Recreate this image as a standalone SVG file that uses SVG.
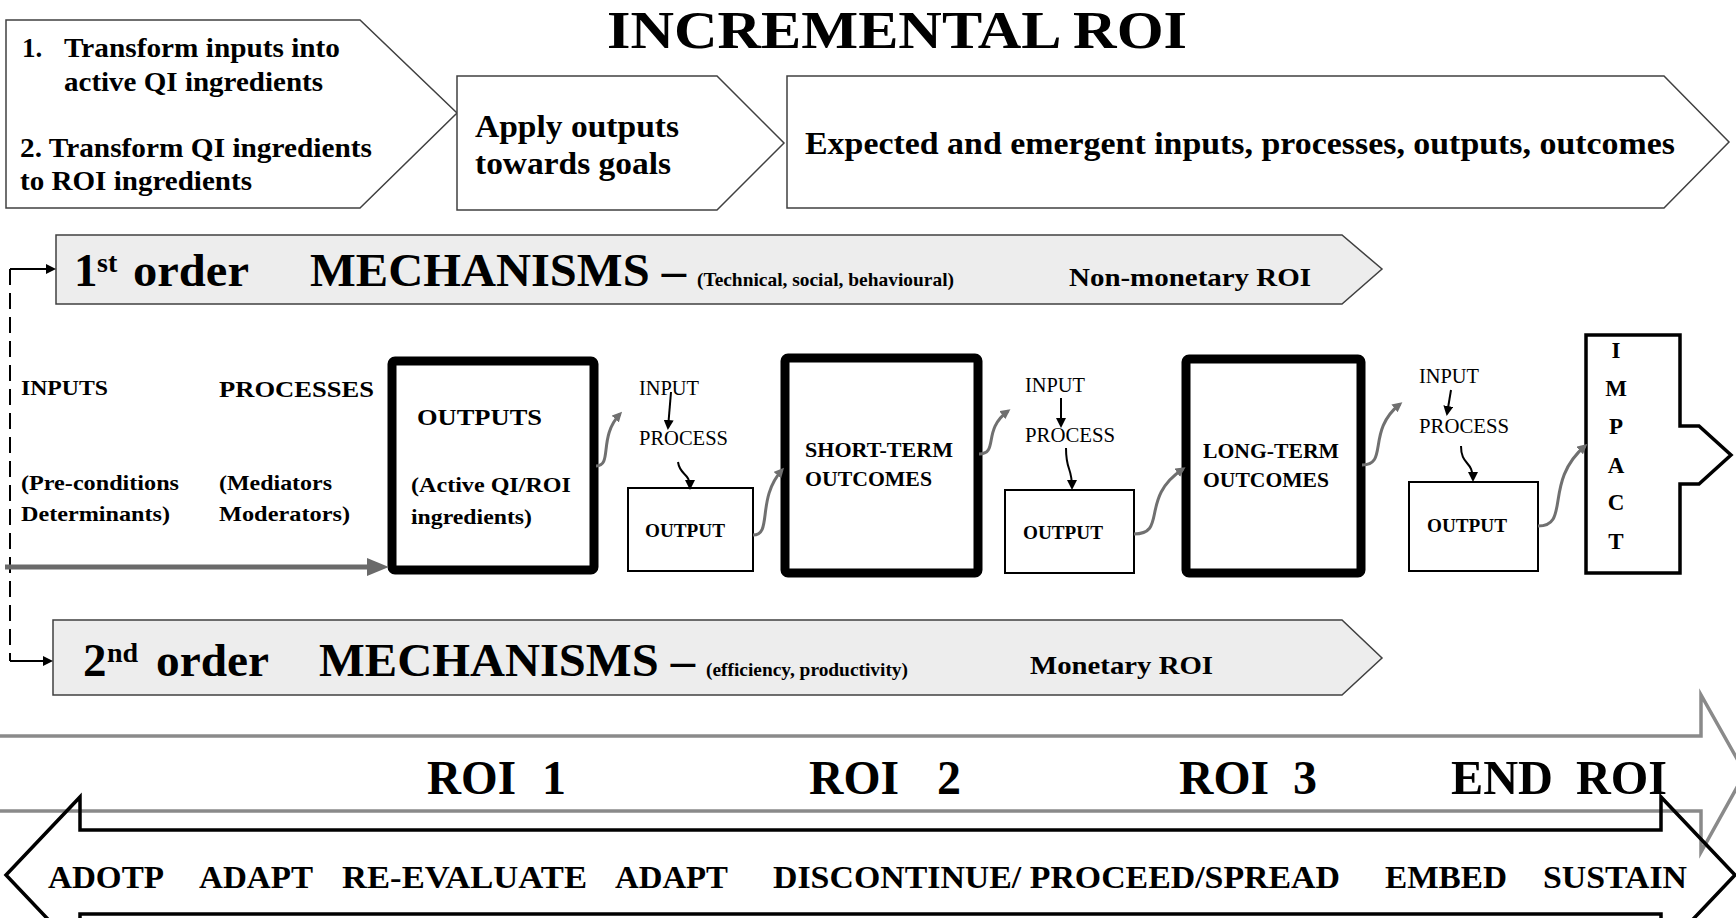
<svg xmlns="http://www.w3.org/2000/svg" width="1736" height="918" viewBox="0 0 1736 918">
  <style>
    .t { font-family: "Liberation Serif", "Times New Roman", serif; font-weight: bold; fill: #000; }
    .n { font-family: "Liberation Serif", "Times New Roman", serif; font-weight: normal; fill: #000; }
    .box { fill: #fff; stroke: #404040; stroke-width: 1.5; }
    .band { fill: #ededed; stroke: #404040; stroke-width: 1.5; }
    .thick { fill: #fff; stroke: #000; stroke-width: 9; }
    .thin { fill: #fff; stroke: #000; stroke-width: 2; }
    .wave { fill: none; stroke: #707070; stroke-width: 3; marker-end: url(#grayHead); }
    .blk { fill: none; stroke: #000; stroke-width: 2; marker-end: url(#blackHead); }
    .dash { fill: none; stroke: #000; stroke-width: 2; stroke-dasharray: 16 8; }
  </style>
  <defs>
    <marker id="grayHead" viewBox="0 0 10 10" refX="7" refY="5" markerWidth="10" markerHeight="10" markerUnits="userSpaceOnUse" orient="auto">
      <path d="M0,0 L10,5 L0,10 z" fill="#707070"/>
    </marker>
    <marker id="blackHead" viewBox="0 0 10 10" refX="8" refY="5" markerWidth="10" markerHeight="10" markerUnits="userSpaceOnUse" orient="auto">
      <path d="M0,0 L10,5 L0,10 z" fill="#000"/>
    </marker>
    <marker id="bigGray" viewBox="0 0 10 10" refX="6" refY="5" markerWidth="22" markerHeight="18" markerUnits="userSpaceOnUse" orient="auto" preserveAspectRatio="none">
      <path d="M0,0 L10,5 L0,10 z" fill="#6a6a6a"/>
    </marker>
  </defs>

  <rect width="1736" height="918" fill="#fff"/>

  <!-- title -->
  <text id="title" class="t" x="607" y="47.5" font-size="53" textLength="580" lengthAdjust="spacingAndGlyphs">INCREMENTAL  ROI</text>

  <!-- top stage arrows -->
  <g id="stage-transform">
    <polygon class="box" points="6,20 360,20 457,113 360,208 6,208"/>
    <text class="t" x="22" y="57" font-size="27">1.</text>
    <text class="t" x="64" y="57" font-size="27" textLength="276" lengthAdjust="spacingAndGlyphs">Transform inputs into</text>
    <text class="t" x="64" y="91" font-size="27" textLength="259" lengthAdjust="spacingAndGlyphs">active QI ingredients</text>
    <text class="t" x="20" y="157" font-size="27" textLength="352" lengthAdjust="spacingAndGlyphs">2. Transform QI ingredients</text>
    <text class="t" x="20" y="190" font-size="27" textLength="232" lengthAdjust="spacingAndGlyphs">to ROI ingredients</text>
  </g>
  <g id="stage-apply">
    <polygon class="box" points="457,76 717,76 784,143 717,210 457,210"/>
    <text class="t" x="475" y="137" font-size="31" textLength="204" lengthAdjust="spacingAndGlyphs">Apply outputs</text>
    <text class="t" x="475" y="174" font-size="31" textLength="196" lengthAdjust="spacingAndGlyphs">towards goals</text>
  </g>
  <g id="stage-expected">
    <polygon class="box" points="787,76 1664,76 1729,142 1664,208 787,208"/>
    <text class="t" x="805" y="154" font-size="31" textLength="870" lengthAdjust="spacingAndGlyphs">Expected and emergent inputs, processes, outputs, outcomes</text>
  </g>

  <!-- mechanism bands -->
  <g id="first-order">
    <polygon class="band" points="56,235 1342,235 1382,269 1342,304 56,304"/>
    <text class="t" x="74" y="286" font-size="47">1</text>
    <text class="t" x="97" y="272" font-size="28">st</text>
    <text class="t" x="133" y="286" font-size="47" textLength="116" lengthAdjust="spacingAndGlyphs">order</text>
    <text class="t" x="310" y="286" font-size="47" textLength="376" lengthAdjust="spacingAndGlyphs">MECHANISMS –</text>
    <text class="t" x="697" y="286" font-size="19" textLength="257" lengthAdjust="spacingAndGlyphs">(Technical, social, behavioural)</text>
    <text class="t" x="1069" y="286" font-size="25" textLength="242" lengthAdjust="spacingAndGlyphs">Non-monetary ROI</text>
  </g>
  <g id="second-order">
    <polygon class="band" points="53,620 1342,620 1382,658 1342,695 53,695"/>
    <text class="t" x="83" y="676" font-size="47">2</text>
    <text class="t" x="107" y="662" font-size="28">nd</text>
    <text class="t" x="156" y="676" font-size="47" textLength="113" lengthAdjust="spacingAndGlyphs">order</text>
    <text class="t" x="319" y="676" font-size="47" textLength="376" lengthAdjust="spacingAndGlyphs">MECHANISMS –</text>
    <text class="t" x="706" y="676" font-size="19" textLength="202" lengthAdjust="spacingAndGlyphs">(efficiency, productivity)</text>
    <text class="t" x="1030" y="674" font-size="25" textLength="183" lengthAdjust="spacingAndGlyphs">Monetary ROI</text>
  </g>

  <!-- chain labels -->
  <g id="inputs">
    <text class="t" x="21" y="395" font-size="21" textLength="87" lengthAdjust="spacingAndGlyphs">INPUTS</text>
    <text class="t" x="21" y="490" font-size="21" textLength="158" lengthAdjust="spacingAndGlyphs">(Pre-conditions</text>
    <text class="t" x="21" y="521" font-size="21" textLength="149" lengthAdjust="spacingAndGlyphs">Determinants)</text>
  </g>
  <g id="processes">
    <text class="t" x="219" y="397" font-size="24" textLength="155" lengthAdjust="spacingAndGlyphs">PROCESSES</text>
    <text class="t" x="219" y="490" font-size="21" textLength="113" lengthAdjust="spacingAndGlyphs">(Mediators</text>
    <text class="t" x="219" y="521" font-size="21" textLength="131" lengthAdjust="spacingAndGlyphs">Moderators)</text>
  </g>
  <g id="outputs">
    <rect class="thick" x="392" y="361" width="202" height="209" rx="3"/>
    <text class="t" x="417" y="425" font-size="24" textLength="125" lengthAdjust="spacingAndGlyphs">OUTPUTS</text>
    <text class="t" x="411" y="492" font-size="21" textLength="160" lengthAdjust="spacingAndGlyphs">(Active QI/ROI</text>
    <text class="t" x="411" y="524" font-size="21" textLength="121" lengthAdjust="spacingAndGlyphs">ingredients)</text>
  </g>
  <g id="step-1">
    <text class="n" x="639" y="395" font-size="20" textLength="60" lengthAdjust="spacingAndGlyphs">INPUT</text>
    <text class="n" x="639" y="445" font-size="20" textLength="89" lengthAdjust="spacingAndGlyphs">PROCESS</text>
    <rect class="thin" x="628" y="488" width="125" height="83"/>
    <text class="t" x="645" y="537" font-size="19" textLength="80" lengthAdjust="spacingAndGlyphs">OUTPUT</text>
  </g>
  <g id="short-term">
    <rect class="thick" x="785" y="358" width="193" height="215" rx="3"/>
    <text class="t" x="805" y="457" font-size="22" textLength="148" lengthAdjust="spacingAndGlyphs">SHORT-TERM</text>
    <text class="t" x="805" y="486" font-size="22" textLength="127" lengthAdjust="spacingAndGlyphs">OUTCOMES</text>
  </g>
  <g id="step-2">
    <text class="n" x="1025" y="392" font-size="20" textLength="60" lengthAdjust="spacingAndGlyphs">INPUT</text>
    <text class="n" x="1025" y="442" font-size="20" textLength="90" lengthAdjust="spacingAndGlyphs">PROCESS</text>
    <rect class="thin" x="1005" y="490" width="129" height="83"/>
    <text class="t" x="1023" y="539" font-size="19" textLength="80" lengthAdjust="spacingAndGlyphs">OUTPUT</text>
  </g>
  <g id="long-term">
    <rect class="thick" x="1186" y="359" width="175" height="214" rx="3"/>
    <text class="t" x="1203" y="458" font-size="22" textLength="136" lengthAdjust="spacingAndGlyphs">LONG-TERM</text>
    <text class="t" x="1203" y="487" font-size="22" textLength="126" lengthAdjust="spacingAndGlyphs">OUTCOMES</text>
  </g>
  <g id="step-3">
    <text class="n" x="1419" y="383" font-size="20" textLength="60" lengthAdjust="spacingAndGlyphs">INPUT</text>
    <text class="n" x="1419" y="433" font-size="20" textLength="90" lengthAdjust="spacingAndGlyphs">PROCESS</text>
    <rect class="thin" x="1409" y="482" width="129" height="89"/>
    <text class="t" x="1427" y="532" font-size="19" textLength="80" lengthAdjust="spacingAndGlyphs">OUTPUT</text>
  </g>
  <g id="impact">
    <path d="M1586,335 H1680 V426 H1699 L1731,455 L1699,484 H1680 V573 H1586 Z" fill="#fff" stroke="#000" stroke-width="3.5"/>
    <g class="t" font-size="23" text-anchor="middle">
      <text x="1616" y="358">I</text>
      <text x="1616" y="396">M</text>
      <text x="1616" y="434">P</text>
      <text x="1616" y="473">A</text>
      <text x="1616" y="510">C</text>
      <text x="1616" y="549">T</text>
    </g>
  </g>

  <!-- ROI timeline -->
  <g id="roi-track">
    <path d="M0,736 H1701 V695 L1745,773 L1701,852 V811 H0" fill="none" stroke="#8a8a8a" stroke-width="3.5"/>
    <g class="t" font-size="48">
      <text x="427" y="794" textLength="89" lengthAdjust="spacingAndGlyphs">ROI</text>
      <text x="542" y="794">1</text>
      <text x="809" y="794" textLength="90" lengthAdjust="spacingAndGlyphs">ROI</text>
      <text x="937" y="794">2</text>
      <text x="1179" y="794" textLength="90" lengthAdjust="spacingAndGlyphs">ROI</text>
      <text x="1293" y="794">3</text>
      <text x="1451" y="794" textLength="102" lengthAdjust="spacingAndGlyphs">END</text>
      <text x="1576" y="794" textLength="91" lengthAdjust="spacingAndGlyphs">ROI</text>
    </g>
  </g>
  <g id="decision-track">
    <path d="M80,830 H1661 V797 L1735,875 L1661,953 V914 H80 V953 L6,875 L80,797 Z" fill="none" stroke="#000" stroke-width="3.5"/>
    <g class="t" font-size="32">
      <text x="48" y="888" textLength="116" lengthAdjust="spacingAndGlyphs">ADOTP</text>
      <text x="199" y="888" textLength="114" lengthAdjust="spacingAndGlyphs">ADAPT</text>
      <text x="342" y="888" textLength="245" lengthAdjust="spacingAndGlyphs">RE-EVALUATE</text>
      <text x="615" y="888" textLength="113" lengthAdjust="spacingAndGlyphs">ADAPT</text>
      <text x="773" y="888" textLength="567" lengthAdjust="spacingAndGlyphs">DISCONTINUE/ PROCEED/SPREAD</text>
      <text x="1385" y="888" textLength="122" lengthAdjust="spacingAndGlyphs">EMBED</text>
      <text x="1543" y="888" textLength="144" lengthAdjust="spacingAndGlyphs">SUSTAIN</text>
    </g>
  </g>

  <!-- connectors -->
  <g id="connectors">
    <path class="dash" d="M10,269 V661"/>
    <path class="blk" d="M10,269 H54"/>
    <path class="blk" d="M10,661 H51"/>
    <path d="M5,567 H380" fill="none" stroke="#6a6a6a" stroke-width="5" marker-end="url(#bigGray)"/>

    <path class="wave" d="M596,466 C613,466 598,437 620,414"/>
    <path class="wave" d="M753,535 C773,535 756,499 782,470"/>
    <path class="wave" d="M979,454 C999,454 982,430 1008,411"/>
    <path class="wave" d="M1134,534 C1168,534 1139,498 1183,469"/>
    <path class="wave" d="M1362,465 C1389,465 1366,431 1400,404"/>
    <path class="wave" d="M1538,526 C1571,526 1543,482 1585,446"/>

    <path class="blk" d="M671,392 L668,428"/>
    <path class="blk" d="M678,462 C680,476 690,472 690,488"/>
    <path class="blk" d="M1061,398 L1061,426"/>
    <path class="blk" d="M1066,448 C1066,472 1072,466 1072,488"/>
    <path class="blk" d="M1451,390 L1447,414"/>
    <path class="blk" d="M1461,446 C1461,466 1473,460 1473,480"/>
  </g>
</svg>
